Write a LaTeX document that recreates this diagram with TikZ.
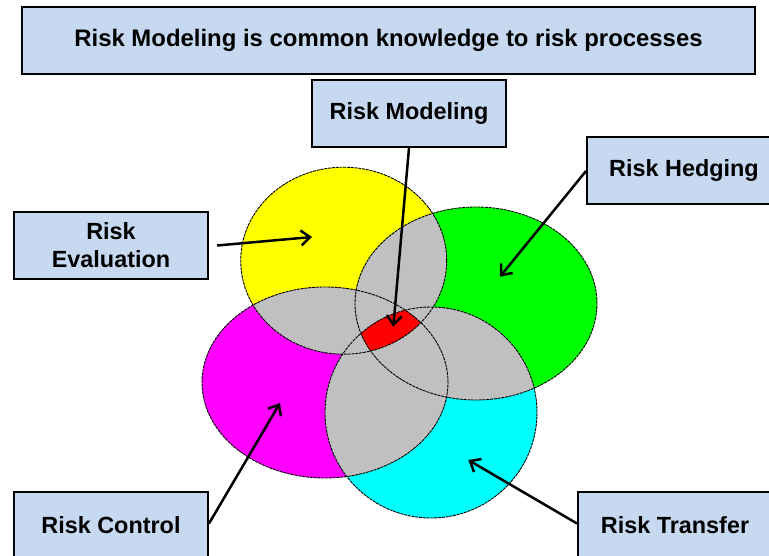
\documentclass[tikz,border=0pt]{standalone}
\usepackage{fontspec}
\setmainfont{Liberation Sans}
\usetikzlibrary{arrows.meta}

\definecolor{boxblue}{RGB}{198,217,241}
\definecolor{overlap}{RGB}{192,192,192}
\definecolor{evalyellow}{RGB}{255,255,0}
\definecolor{hedgegreen}{RGB}{0,255,0}
\definecolor{ctrlmagenta}{RGB}{255,0,255}
\definecolor{transcyan}{RGB}{0,255,255}
\definecolor{modelred}{RGB}{255,0,0}

\tikzset{
  box/.style={draw=black, line width=2pt, fill=boxblue, minimum width=194pt,
    minimum height=67pt, inner sep=0pt, align=center,
    font=\bfseries\fontsize{23.4}{28}\selectfont},
  pointer/.style={line width=2.5pt, -{Straight Barb[length=9pt,width=15pt]}},
  rim/.style={draw=black, line width=0.9pt, dash pattern=on 3pt off 0.8pt}
}

\begin{document}
\begin{tikzpicture}[x=1pt,y=-1pt]
\useasboundingbox (0,0) rectangle (769,556);
% centres of the four risk processes
\coordinate (yel) at (343.7,260.7);
\coordinate (grn) at (476,303.5);
\coordinate (mag) at (325,382.5);
\coordinate (cyn) at (431,412.5);
\foreach \c/\rx/\ry/\col in {yel/103/93.5/evalyellow, grn/121/96.5/hedgegreen, mag/123/95.5/ctrlmagenta, cyn/106/105.5/transcyan}
  \fill[\col] (\c) ellipse [x radius=\rx pt, y radius=\ry pt];
% pairwise overlaps
\foreach \p/\px/\py/\q/\qx/\qy in {yel/103/93.5/grn/121/96.5, yel/103/93.5/mag/123/95.5,
    yel/103/93.5/cyn/106/105.5, grn/121/96.5/mag/123/95.5, grn/121/96.5/cyn/106/105.5,
    mag/123/95.5/cyn/106/105.5}
{
  \begin{scope}
    \clip (\p) ellipse [x radius=\px pt, y radius=\py pt];
    \fill[overlap] (\q) ellipse [x radius=\qx pt, y radius=\qy pt];
  \end{scope}
}
% common to all four
\begin{scope}
  \clip (yel) ellipse [x radius=103pt, y radius=93.5pt];
  \clip (grn) ellipse [x radius=121pt, y radius=96.5pt];
  \clip (mag) ellipse [x radius=123pt, y radius=95.5pt];
  \fill[modelred] (cyn) ellipse [x radius=106pt, y radius=105.5pt];
\end{scope}
\foreach \c/\rx/\ry in {yel/103/93.5, grn/121/96.5, mag/123/95.5, cyn/106/105.5}
  \draw[rim] (\c) ellipse [x radius=\rx pt, y radius=\ry pt];

\node[box, minimum width=733pt, font=\bfseries\fontsize{23.9}{28}\selectfont] (banner) at (388.5,40.5) {Risk Modeling is common knowledge to risk processes};
\node[box] (modeling) at (409,113.5) {Risk Modeling};
\node[box] (hedging) at (684,171) {Risk Hedging};
\node[box] (evaluation) at (111,245.5) {Risk\\Evaluation};
\node[box] (control) at (111,525.5) {Risk Control};
\node[box] (transfer) at (675,525.5) {Risk Transfer};

\coordinate (tipE) at (312,237);
\coordinate (tipM) at (393.3,326.7);
\coordinate (tipH) at (500,276.7);
\coordinate (tipC) at (280,403);
\coordinate (tipT) at (468.3,460);
\draw[pointer] ([xshift=8pt]evaluation.east) -- (tipE);
\draw[pointer] (modeling.south) -- (tipM);
\draw[pointer] (hedging.west) -- (tipH);
\draw[pointer] ([yshift=2pt]control.east) -- (tipC);
\draw[pointer] ([yshift=2pt]transfer.west) -- (tipT);
\end{tikzpicture}
\end{document}
